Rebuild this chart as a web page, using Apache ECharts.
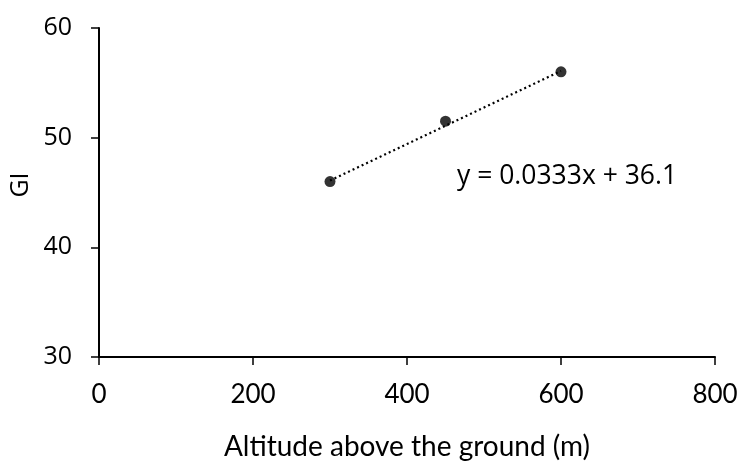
<!DOCTYPE html>
<html>
<head>
<meta charset="utf-8">
<script src="https://cdn.jsdelivr.net/npm/echarts@6/dist/echarts.min.js"></script>
<style>html,body{margin:0;padding:0;background:#fff}#c{width:744px;height:466px}</style>
</head>
<body>
<div id="c"></div>
<script>
// Altitude (m) and GI measurements
var altitudes = [300, 450, 600];
var giValues = [46, 51.5, 56];
// Linear trend fit
var slope = 0.0333;
var intercept = 36.1;
var xTicks = [0, 200, 400, 600, 800];
var yTicks = [30, 40, 50, 60];

var points = altitudes.map(function (a, i) { return [a, giValues[i]]; });
var xMin = Math.min.apply(null, altitudes), xMax = Math.max.apply(null, altitudes);
var trend = [[xMin, slope * xMin + intercept], [xMax, slope * xMax + intercept]];

var chart = echarts.init(document.getElementById('c'), null, { renderer: 'canvas' });
chart.setOption({
  animation: false,
  grid: { left: 99, top: 28, right: 29, bottom: 107 },
  xAxis: {
    type: 'value', min: xTicks[0], max: xTicks[xTicks.length - 1], interval: 200,
    name: 'Altitude above the ground (m)', nameLocation: 'middle', nameGap: 76,
    nameTextStyle: { fontFamily: 'Lato', fontSize: 28, color: '#000' },
    axisLine: { lineStyle: { color: '#000', width: 2 } },
    axisTick: { show: true, length: 8, lineStyle: { color: '#000', width: 1.5 } },
    axisLabel: { fontFamily: 'Lato', fontSize: 26, color: '#000', margin: 25 },
    splitLine: { show: false }
  },
  yAxis: {
    type: 'value', min: yTicks[0], max: yTicks[yTicks.length - 1], interval: 10,
    axisLine: { show: true, lineStyle: { color: '#000', width: 2 } },
    axisTick: { show: true, length: 8, lineStyle: { color: '#000', width: 1.5 } },
    axisLabel: { fontFamily: 'Open Sans', fontSize: 25, color: '#000', margin: 27 },
    splitLine: { show: false }
  },
  series: [
    {
      type: 'line', data: trend, symbol: 'none', silent: true,
      lineStyle: { color: '#000', width: 2.2, type: [2, 3] }
    },
    {
      type: 'scatter', data: points, symbol: 'circle', symbolSize: 11,
      itemStyle: { color: '#000' }
    }
  ],
  graphic: [
    {
      type: 'text', x: 21, y: 185, rotation: Math.PI / 2,
      style: { text: 'GI', font: '25px "Open Sans"', fill: '#000', align: 'center', verticalAlign: 'middle' }
    },
    {
      type: 'text', left: 457, top: 163,
      style: { text: 'y = 0.0333x + 36.1', font: '26.5px "Open Sans"', fill: '#000' }
    }
  ]
});
</script>
</body>
</html>
